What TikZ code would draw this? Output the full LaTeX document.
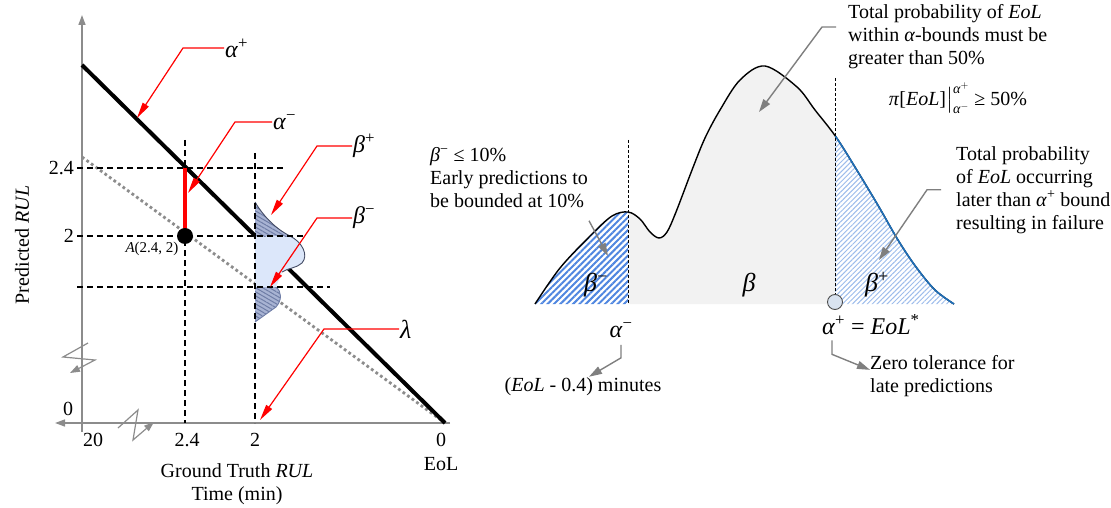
\documentclass[tikz,border=0pt]{standalone}
\usepackage{fontspec}
\setmainfont{Liberation Serif}
\usepackage{amsmath}
\usetikzlibrary{arrows.meta,positioning,calc,patterns.meta}

\definecolor{axisgray}{HTML}{8C8C8C}
\definecolor{callgray}{HTML}{7F7F7F}
\definecolor{midfill}{HTML}{F2F2F2}
\definecolor{earlyblue}{HTML}{4F86E0}
\definecolor{lateblue}{HTML}{9DBCEB}
\definecolor{curveblue}{HTML}{1F6FB8}
\definecolor{hatchbase}{HTML}{A8B3D3}
\definecolor{hatchline}{HTML}{6F7DA6}
\definecolor{pdfblue}{HTML}{DCE7FA}
\definecolor{markfill}{HTML}{D9E3F0}

\newcommand{\symA}{\textit{α}}
\newcommand{\symB}{\textit{β}}

\begin{document}
\begin{tikzpicture}[x=1pt, y=-1pt,
    axisline/.style={draw=axisgray, line width=1.5pt, -{Triangle[length=10pt,width=7pt]}},
    guide/.style={black, line width=1.2pt, dash pattern=on 6pt off 4pt},
    fineguide/.style={black, line width=0.9pt, dash pattern=on 3pt off 2pt},
    redcall/.style={red, line width=1.2pt, -{Triangle[length=16pt,width=7pt]}},
    graycall/.style={callgray, line width=1.4pt, -{Triangle[length=13pt,width=8pt]}},
    tick/.style={font=\fontsize{20}{23}\selectfont, inner sep=1pt},
    sym/.style={font=\fontsize{24}{28}\selectfont, inner sep=1pt},
    bigsym/.style={font=\fontsize{26}{30}\selectfont, inner sep=1pt},
    txt/.style={font=\fontsize{20}{23}\selectfont, align=left, inner sep=0pt}]
  \useasboundingbox (0,0) rectangle (1111,508);

  % left panel: axes
  \draw[axisline] (82,432) -- (82,15);
  \draw[axisline] (450,423) -- (55,423);
  \draw[axisline, line width=1.2pt] (88,343) -- (63,357) -- (95,360) -- (70,373);
  \draw[axisline, line width=1.2pt] (118,428) -- (138,410) -- (133,440) -- (154,422);

  \coordinate (ap0) at (82,65);
  \coordinate (lam0) at (82,157);
  \coordinate (eol) at (445,423);

  \draw[axisgray, line width=2.8pt, dash pattern=on 2.8pt off 2.8pt] (lam0) -- (eol);
  \draw[line width=4pt] (ap0) -- (eol);

  % RUL distribution at 2
  \path[save path=\rulpdf] (255,202) .. controls (262,214) and (274,228) .. (290,236)
    .. controls (302,242) and (309,255) .. (302,263) .. controls (297,268) and (288,268) .. (282,272)
    -- (276,287) .. controls (282,292) and (282,300) .. (276,307) -- (255,322) -- cycle;
  \fill[pdfblue, use path=\rulpdf];
  \begin{scope}
    \clip[use path=\rulpdf];
    \fill[hatchbase] (250,195) rectangle (320,236);
    \fill[pattern={Lines[angle=-30,distance=3.5pt,line width=1pt]}, pattern color=hatchline] (250,195) rectangle (320,236);
    \fill[hatchbase] (250,287) rectangle (320,330);
    \fill[pattern={Lines[angle=-30,distance=3.5pt,line width=1pt]}, pattern color=hatchline] (250,287) rectangle (320,330);
  \end{scope}
  \draw[hatchline!60!black, line width=0.9pt] (255,202) .. controls (262,214) and (274,228) .. (290,236)
    .. controls (302,242) and (309,255) .. (302,263) .. controls (297,268) and (288,268) .. (282,272);
  \draw[hatchline, line width=0.9pt] (276,287) .. controls (282,292) and (282,300) .. (276,307) -- (255,322);

  \draw[guide] (77,168) -- (285,168);
  \draw[guide] (77,236) -- (305,236);
  \draw[guide] (77,287) -- (330,287);
  \draw[guide] (185,140) -- (185,423);
  \draw[guide] (255,153) -- (255,423);

  \draw[red, line width=4pt] (185,168) -- (185,236);
  \node[circle, fill=black, inner sep=0pt, minimum size=16pt] (Adot) at (185,236) {};
  \node[font=\fontsize{15}{18}\selectfont] (Alab) at (152,249) {\textit{A}(2.4, 2)};

  \node[tick, anchor=east] (y24) at (75,168) {2.4};
  \node[tick, anchor=east] (y2) at (75,236) {2};
  \node[tick] (y0) at (68,409) {0};
  \node[tick] (x20) at (93,440) {20};
  \node[tick] (x24) at (187,440) {2.4};
  \node[tick] (x2) at (255,440) {2};
  \node[tick] (x0) at (441,440) {0};
  \node[tick] (xeol) at (441,464) {EoL};
  \node[tick, align=center] (xlab) at (237,484) {Ground Truth \textit{RUL}\\Time (min)};
  \node[tick, rotate=90] (ylab) at (22,245) {Predicted \textit{RUL}};

  % red callouts
  \node[sym, anchor=west] (apl) at (224,48) {\symA\textsuperscript{+}};
  \node[sym, anchor=west] (aml) at (272,122) {\symA\textsuperscript{−}};
  \node[sym, anchor=west] (bpl) at (352,146) {\symB\textsuperscript{+}};
  \node[sym, anchor=west] (bml) at (352,218) {\symB\textsuperscript{−}};
  \node[bigsym, anchor=west] (laml) at (399,329) {\textit{λ}};
  \coordinate (aptip) at (137,118);
  \coordinate (amtip) at (188,193);
  \coordinate (bptip) at (271,215);
  \coordinate (bmtip) at (270,287);
  \coordinate (lamtip) at (260,420);
  \draw[redcall] (apl.west) -- ++(-41,0) -- (aptip);
  \draw[redcall] (aml.west) -- ++(-37,0) -- (amtip);
  \draw[redcall] (bpl.west) -- ++(-35,0) -- (bptip);
  \draw[redcall] (bml.west) -- ++(-35,0) -- (bmtip);
  \draw[redcall] (laml.west) -- ++(-75,0) -- (lamtip);

  % right panel: EoL distribution
  \path[save path=\eolpdf] plot[smooth, tension=0.55] coordinates {(535,304) (560,268) (590,236)
    (612,216) (628,212) (640,219) (650,232) (659,238) (667,232) (676,212) (692,170) (705,138)
    (720,110) (740,80) (765,66) (797,87) (815,110) (836,137) (858,172) (879,207) (898,240)
    (916,267) (935,290) (954,304)};
  \begin{scope}
    \clip[use path=\eolpdf];
    \fill[midfill] (628,50) rectangle (835,310);
    \fill[white] (530,150) rectangle (628,310);
    \fill[pattern={Lines[angle=45,distance=4.5pt,line width=2pt]}, pattern color=earlyblue] (530,150) rectangle (628,310);
    \fill[pattern={Lines[angle=45,distance=3.5pt,line width=1pt]}, pattern color=lateblue] (835,100) rectangle (960,310);
  \end{scope}
  \draw[line width=1.4pt, use path=\eolpdf];
  \begin{scope}
    \clip (835,50) rectangle (970,320);
    \draw[curveblue, line width=1.6pt, use path=\eolpdf];
  \end{scope}
  \draw[fineguide] (628,140) -- (628,304);
  \draw[fineguide] (835,78) -- (835,295);
  \node[circle, draw=black!70, fill=markfill, line width=0.9pt, minimum size=15pt, inner sep=0pt] (eolmark) at (835,302) {};

  \node[bigsym] (bmr) at (596,285) {\symB\textsuperscript{−}};
  \node[bigsym] (bmid) at (749,285) {\symB};
  \node[bigsym] (bpr) at (877,285) {\symB\textsuperscript{+}};
  \node[sym] (amr) at (621,330) {\symA\textsuperscript{−}};
  \node[sym, anchor=west] (apr) at (821,325) {\symA\textsuperscript{+} = \textit{EoL}\textsuperscript{*}};

  \node[txt, anchor=north west] (ttop) at (848,4) {Total probability of \textit{EoL}\\within \textit{α}-bounds must be\\greater than 50\%};
  \node[font=\fontsize{20}{23}\selectfont, inner sep=0pt] (tform) at (958,98) {\textit{π}[\textit{EoL}]$\big|^{\text{\textit{α}}^{+}}_{\text{\textit{α}}^{-}}$ ≥ 50\%};
  \node[txt, anchor=north west] (tright) at (956,146) {Total probability\\of \textit{EoL} occurring\\later than \textit{α}\textsuperscript{+} bound\\resulting in failure};
  \node[txt, anchor=north west] (tbeta) at (430,147) {\symB\textsuperscript{−} ≤ 10\%\\Early predictions to\\be bounded at 10\%};
  \node[tick] (eolm) at (583,387) {(\textit{EoL} - 0.4) minutes};
  \node[txt, anchor=north west] (ztol) at (870,355) {Zero tolerance for\\late predictions};

  % gray callouts
  \coordinate (ttip) at (759,112);
  \coordinate (rtip) at (879,260);
  \coordinate (btip) at (608,256);
  \draw[graycall] ($(ttop.north west)+(-12,23)$) -- ++(-14,0) -- (ttip);
  \draw[graycall] ($(tright.west)+(-15,0)$) -- ++(-14,0) -- (rtip);
  \draw[graycall] ($(tbeta.south west)+(159,13)$) -- (btip);
  \draw[graycall] ([yshift=-6pt]amr.south) -- ++(0,13) -- ([xshift=6pt]eolm.north);
  \draw[graycall] ($(apr.south west)+(11,4)$) -- ++(0,14) -- ([yshift=6pt]ztol.west);
\end{tikzpicture}
\end{document}
